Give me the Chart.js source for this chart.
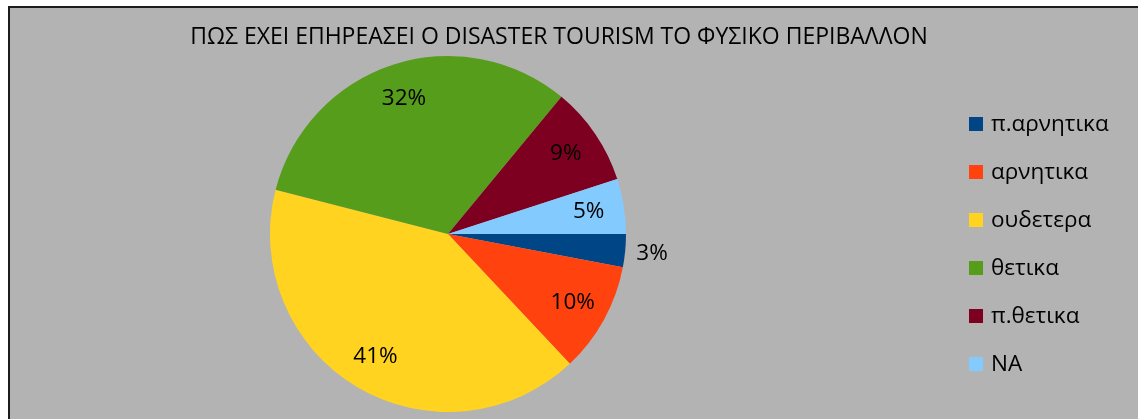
<!DOCTYPE html>
<html>
<head>
<meta charset="utf-8">
<script src="https://cdn.jsdelivr.net/npm/chart.js@4/dist/chart.umd.min.js"></script>
<style>
  html, body { margin: 0; padding: 0; background: #ffffff; width: 1138px; height: 419px; overflow: hidden; }
  #frame {
    position: absolute; left: 8px; top: 6px; width: 1128px; height: 413px;
    background: #b3b3b3; border-top: 2px solid #1c1c1c; border-left: 2px solid #1c1c1c;
  }
  #pie { position: absolute; left: 0; top: 0; }
</style>
</head>
<body>
<div id="frame"></div>
<canvas id="pie" width="1138" height="419"></canvas>
<script>
// Answers to: how has disaster tourism affected the natural environment (percent)
const chartTitle = 'ΠΩΣ ΕΧΕΙ ΕΠΗΡΕΑΣΕΙ Ο DISASTER TOURISM ΤΟ ΦΥΣΙΚΟ ΠΕΡΙΒΑΛΛΟΝ';
const categories = ['π.αρνητικα', 'αρνητικα', 'ουδετερα', 'θετικα', 'π.θετικα', 'ΝΑ'];
const shares = [3, 10, 41, 32, 9, 5];
const sliceColors = ['#004586', '#ff420e', '#ffd320', '#579d1c', '#7e0021', '#83caff'];

const FONT = "'Open Sans', 'Liberation Sans', sans-serif";

// Percent labels: inside the slice, or just outside when the slice is thin
const sliceLabels = {
  id: 'sliceLabels',
  afterDatasetsDraw(chart, args, opts) {
    const ctx = chart.ctx;
    const meta = chart.getDatasetMeta(0);
    const values = chart.data.datasets[0].data;
    ctx.save();
    ctx.font = opts.font;
    ctx.fillStyle = opts.color;
    ctx.textAlign = 'center';
    ctx.textBaseline = 'middle';
    meta.data.forEach((arc, i) => {
      const p = arc.getProps(['x', 'y', 'startAngle', 'endAngle', 'outerRadius'], true);
      const mid = (p.startAngle + p.endAngle) / 2;
      const span = p.endAngle - p.startAngle;
      const dist = span < opts.thinAngle ? p.outerRadius + opts.outside : p.outerRadius * opts.inside;
      ctx.fillText(values[i] + '%', p.x + Math.cos(mid) * dist, p.y + Math.sin(mid) * dist);
    });
    ctx.restore();
  }
};

// Key on the right, reserved as its own layout box
const sideKey = {
  id: 'sideKey',
  beforeInit(chart, args, opts) {
    const box = {
      position: 'right', weight: 1000, fullSize: false,
      options: { stack: undefined, stackWeight: 1 },
      left: 0, top: 0, right: 0, bottom: 0, width: 0, height: 0,
      isHorizontal() { return false; },
      update(maxWidth, maxHeight) { this.width = opts.width; this.height = maxHeight; return this; },
      getPadding() { return { top: 0, left: 0, right: 0, bottom: 0 }; },
      draw() {
        const ctx = chart.ctx;
        const ds = chart.data.datasets[0];
        ctx.save();
        ctx.font = opts.font;
        ctx.textBaseline = 'middle';
        ctx.textAlign = 'left';
        chart.data.labels.forEach((lab, i) => {
          const y = this.top + opts.firstRow + i * opts.rowGap;
          const x = this.left + opts.indent;
          ctx.fillStyle = ds.backgroundColor[i];
          ctx.fillRect(x, Math.round(y - opts.square / 2), opts.square, opts.square);
          ctx.fillStyle = opts.color;
          ctx.fillText(lab, x + opts.square + opts.gap, y + 1);
        });
        ctx.restore();
      }
    };
    if (Chart.layouts && Chart.layouts.addBox) {
      Chart.layouts.addBox(chart, box);
    } else {
      box._layers = () => [{ z: 0, draw: () => box.draw() }];
      chart.boxes.push(box);
    }
  }
};

new Chart(document.getElementById('pie'), {
  type: 'pie',
  data: {
    labels: categories,
    datasets: [{
      data: shares,
      backgroundColor: sliceColors,
      borderWidth: 0,
      hoverOffset: 0
    }]
  },
  options: {
    responsive: false,
    devicePixelRatio: 1,
    animation: false,
    rotation: 90,
    layout: { padding: { left: 10, right: 30, top: 8, bottom: 7 } },
    plugins: {
      legend: { display: false },
      tooltip: { enabled: false },
      title: {
        display: true,
        text: chartTitle,
        color: '#000000',
        font: { family: FONT, size: 23, weight: 'normal', lineHeight: 1.2 },
        padding: { top: 16, bottom: 4.4 }
      },
      sliceLabels: {
        font: "22.5px " + FONT, color: '#000000',
        inside: 0.8, outside: 27, thinAngle: 0.25
      },
      sideKey: {
        width: 222, indent: 83, firstRow: 68, rowGap: 48, square: 14, gap: 8,
        font: "22.5px " + FONT, color: '#000000'
      }
    }
  },
  plugins: [sliceLabels, sideKey]
});
</script>
</body>
</html>
